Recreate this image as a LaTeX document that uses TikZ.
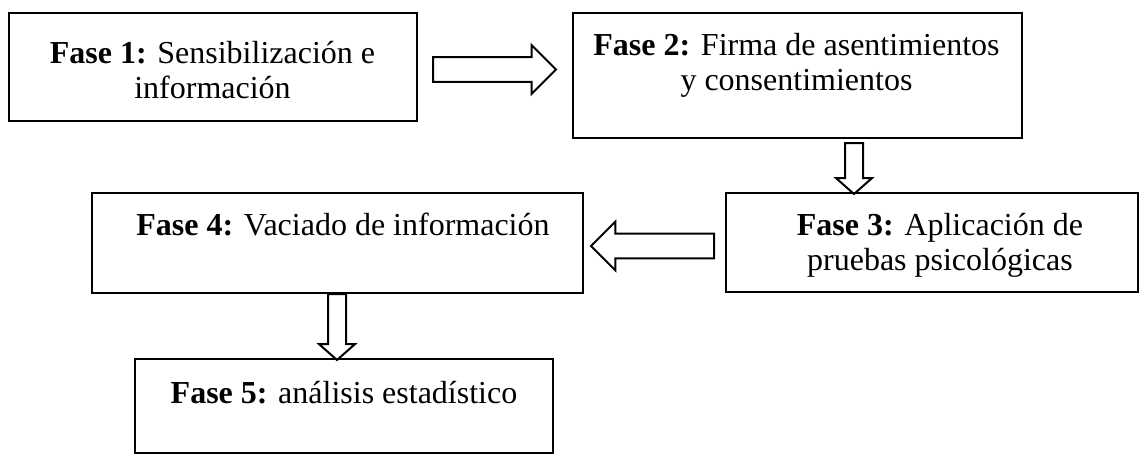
\documentclass[tikz,border=0pt]{standalone}
\usepackage{fontspec}
\setmainfont{Liberation Serif}
\usepackage{tikz}
\usetikzlibrary{shapes.arrows}
\tikzset{
  caja/.style={draw, line width=1.9pt, inner sep=0pt},
  texto/.style={anchor=north, align=center, inner sep=0pt, font=\fontsize{24}{26.25}\selectfont},
  flecha/.style={single arrow, draw, line width=1.5pt, inner xsep=0pt, anchor=tail},
  flechah/.style={flecha, single arrow tip angle=90, inner ysep=8.5pt, single arrow head extend=9pt, minimum height=92.25pt, minimum width=34.5pt},
  flechav/.style={flecha, single arrow tip angle=97, inner ysep=6pt, single arrow head extend=6.75pt, minimum width=25.5pt},
}

\begin{document}
\begin{tikzpicture}[x=0.75pt, y=-0.75pt]
    \useasboundingbox (0,0) rectangle (1140,455);

    \node[caja, minimum width=306pt, minimum height=81pt] (f1) at (213,67) {};
    \node[caja, minimum width=336.75pt, minimum height=93.75pt] (f2) at (797.5,75.5) {};
    \node[caja, minimum width=309pt, minimum height=74.25pt] (f3) at (932,242.5) {};
    \node[caja, minimum width=368.25pt, minimum height=75pt] (f4) at (337.5,243) {};
    \node[caja, minimum width=313.5pt, minimum height=70.5pt] (f5) at (344,406) {};

    \node[texto] (t1) at (212.5,41) {\textbf{Fase 1:} Sensibilización e\\información};
    \node[texto] (t2) at (796.5,33) {\textbf{Fase 2:} Firma de asentimientos\\y consentimientos};
    \node[texto] (t3) at (940,213) {\textbf{Fase 3:} Aplicación de\\pruebas psicológicas};
    \node[texto] (t4) at (343,213) {\textbf{Fase 4:} Vaciado de información};
    \node[texto] (t5) at (344,381) {\textbf{Fase 5:} análisis estadístico};

    \node[flechah] (a12) at (432,69.5) {};
    \node[flechav, rotate=-90, minimum height=38.25pt] (a23) at (854,142) {};
    \node[flechah, rotate=180] (a34) at (715,246) {};
    \node[flechav, rotate=-90, minimum height=49.5pt] (a45) at (337,293) {};
\end{tikzpicture}
\end{document}
